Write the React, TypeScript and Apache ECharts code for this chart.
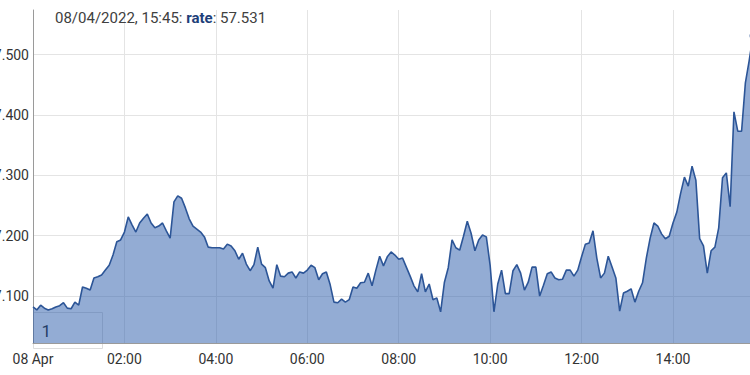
import React, { useEffect, useRef } from "react";
import * as echarts from "echarts";

const TITLE_DATE = "08/04/2022, 15:45: ";
const SERIES_NAME = "rate";
const LAST_VALUE_TEXT = "57.531";
const START_LABEL = "08 Apr";
const STEP_MINUTES = 5;
const BOX_TEXT = "1";

const rates: number[] = [
  57.082, 57.077, 57.085, 57.080, 57.077, 57.079, 57.082, 57.084, 57.089, 57.080,
  57.079, 57.090, 57.085, 57.115, 57.113, 57.110, 57.130, 57.132, 57.135, 57.143,
  57.151, 57.168, 57.190, 57.193, 57.206, 57.231, 57.218, 57.206, 57.221, 57.229,
  57.236, 57.221, 57.213, 57.216, 57.221, 57.208, 57.196, 57.256, 57.266, 57.262,
  57.246, 57.228, 57.216, 57.211, 57.206, 57.198, 57.181, 57.180, 57.180, 57.180,
  57.178, 57.186, 57.183, 57.175, 57.161, 57.171, 57.153, 57.142, 57.152, 57.181,
  57.153, 57.147, 57.125, 57.113, 57.152, 57.133, 57.132, 57.138, 57.140, 57.130,
  57.140, 57.138, 57.143, 57.151, 57.147, 57.127, 57.137, 57.140, 57.119, 57.090,
  57.089, 57.095, 57.090, 57.094, 57.115, 57.113, 57.122, 57.123, 57.138, 57.117,
  57.143, 57.166, 57.150, 57.165, 57.173, 57.168, 57.161, 57.163, 57.148, 57.133,
  57.117, 57.107, 57.137, 57.107, 57.120, 57.094, 57.097, 57.074, 57.123, 57.147,
  57.193, 57.180, 57.176, 57.199, 57.224, 57.204, 57.175, 57.193, 57.201, 57.198,
  57.151, 57.074, 57.120, 57.143, 57.104, 57.104, 57.142, 57.152, 57.138, 57.110,
  57.123, 57.148, 57.148, 57.100, 57.118, 57.137, 57.140, 57.130, 57.127, 57.128,
  57.143, 57.143, 57.133, 57.143, 57.165, 57.186, 57.188, 57.208, 57.163, 57.130,
  57.138, 57.166, 57.148, 57.130, 57.075, 57.105, 57.108, 57.112, 57.090, 57.108,
  57.122, 57.163, 57.196, 57.221, 57.216, 57.203, 57.195, 57.199, 57.221, 57.239,
  57.270, 57.297, 57.282, 57.315, 57.292, 57.195, 57.183, 57.138, 57.175, 57.181,
  57.213, 57.296, 57.304, 57.248, 57.405, 57.373, 57.373, 57.453, 57.490, 57.531,
];

const hours: number[] = rates.map((_, i) => (i * STEP_MINUTES) / 60);

const LINE = "#2c5597";
const FILL = "rgb(40,90,170)";
const FONT = "Roboto";

export default function App() {
  const ref = useRef<HTMLDivElement>(null);
  useEffect(() => {
    if (!ref.current) return;
    const chart = echarts.init(ref.current, undefined, { renderer: "svg" });
    const data = rates.map((v, i) => [hours[i], v]);
    const last = data[data.length - 1];
    chart.setOption({
      animation: false,
      grid: {
        left: 33,
        right: -3,
        top: 10,
        bottom: 32,
        containLabel: false,
        outerBoundsMode: "none",
      },
      xAxis: {
        type: "value",
        min: 0,
        max: hours[hours.length - 1],
        interval: 2,
        axisLine: { show: true, lineStyle: { color: "#9a9a9a", width: 1 } },
        axisTick: { show: false },
        splitLine: { show: true, showMaxLine: false, showMinLine: false, lineStyle: { color: "#e4e4e4", width: 1 } },
        axisLabel: {
          margin: 9,
          fontSize: 14,
          fontFamily: FONT,
          color: "#333",
          showMaxLabel: false,
          hideOverlap: false,
          formatter: (v: number) => {
            if (v === 0) return START_LABEL;
            const h = Math.round(v);
            return (h < 10 ? "0" : "") + h + ":00";
          },
        },
      },
      yAxis: {
        type: "value",
        min: 57.0223,
        max: 57.5737,
        splitNumber: 5,
        axisLine: { show: true, lineStyle: { color: "#9a9a9a", width: 1 } },
        axisTick: { show: false },
        splitLine: { show: true, showMaxLine: false, showMinLine: false, lineStyle: { color: "#e4e4e4", width: 1 } },
        axisLabel: {
          margin: 4,
          fontSize: 14,
          fontFamily: FONT,
          color: "#333",
          showMinLabel: false,
          showMaxLabel: false,
          formatter: (v: number) => v.toFixed(3),
        },
      },
      series: [
        {
          type: "line",
          data,
          showSymbol: false,
          symbol: "none",
          lineStyle: { color: LINE, width: 1.6 },
          areaStyle: { color: FILL, opacity: 0.5, origin: "start" },
          z: 2,
        },
        {
          type: "scatter",
          data: [last],
          symbol: "circle",
          symbolSize: 7,
          itemStyle: { color: LINE },
          z: 3,
        },
      ],
      graphic: [
        {
          type: "text",
          left: 55,
          top: 10,
          z: 10,
          style: {
            text: `{a|${TITLE_DATE}}{b|${SERIES_NAME}}{a|: ${LAST_VALUE_TEXT}}`,
            rich: {
              a: { fontSize: 15, fontFamily: FONT, fill: "#404040" },
              b: { fontSize: 15, fontFamily: FONT, fill: "#1e3f7a", fontWeight: "bold" },
            },
          },
        },
        {
          type: "group",
          left: 33,
          top: 312,
          z: 10,
          children: [
            {
              type: "rect",
              shape: { x: 0, y: 0, width: 69, height: 36 },
              style: { fill: "#ffffff", stroke: "#dddddd", lineWidth: 1 },
            },
            {
              type: "text",
              x: 8,
              y: 10,
              style: { text: BOX_TEXT, fontSize: 17, fontFamily: FONT, fill: "#222" },
            },
          ],
        },
      ],
    });
    return () => chart.dispose();
  }, []);
  return (
    <div
      ref={ref}
      style={{ position: "fixed", left: 0, top: 0, width: 750, height: 375, background: "#fff" }}
    />
  );
}
